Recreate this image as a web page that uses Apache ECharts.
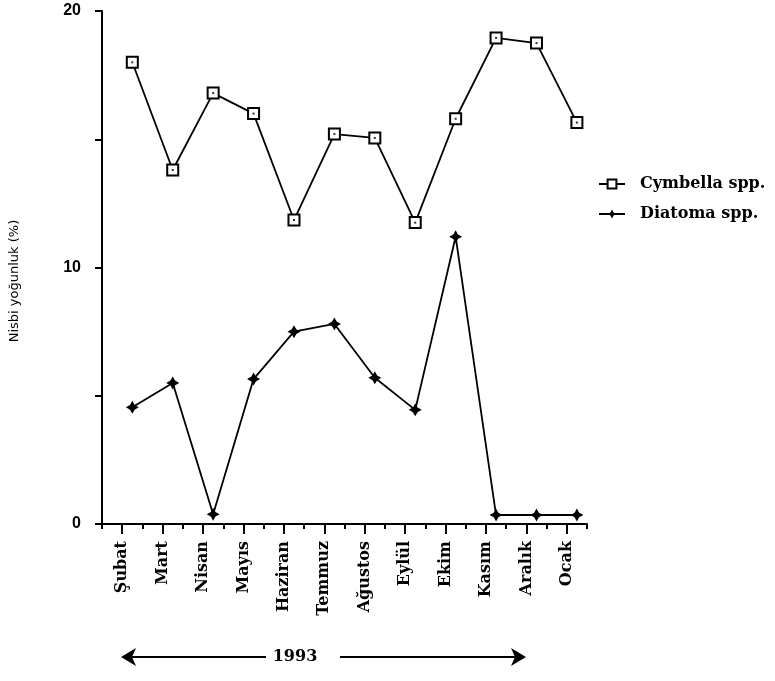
<!DOCTYPE html>
<html>
<head>
<meta charset="utf-8">
<script src="https://cdn.jsdelivr.net/npm/echarts@6/dist/echarts.min.js"></script>
<style>
  html, body { margin: 0; padding: 0; background: #fff; }
  #chart { width: 775px; height: 681px; }
</style>
</head>
<body>
<div id="chart"></div>
<script>
// Months of the sampling year (Şubat 1993 – Ocak 1994)
const months = ['Şubat', 'Mart', 'Nisan', 'Mayıs', 'Haziran', 'Temmuz',
                'Ağustos', 'Eylül', 'Ekim', 'Kasım', 'Aralık', 'Ocak'];

// Relative abundance (%) per month
const cymbella = [18.0, 13.8, 16.8, 16.0, 11.85, 15.2, 15.05, 11.75, 15.8, 18.95, 18.75, 15.65];
const diatoma  = [4.55, 5.5, 0.38, 5.65, 7.5, 7.8, 5.7, 4.45, 11.2, 0.35, 0.35, 0.35];

// Y axis ticks and which of them carry a label
const yTicks = [0, 5, 10, 15, 20];
const yLabelled = [0, 10, 20];

// Month labels sit a quarter step left of each plotted month; short ticks halfway between
const LABEL_SHIFT = 0.25;
const majorTicks = months.map((_, i) => i - LABEL_SHIFT);
const minorTicks = [-1].concat(months.map((_, i) => i)).map(i => i + 0.5 - LABEL_SHIFT);

const toPoints = arr => arr.map((v, i) => [i, v]);

const serifBold = { fontFamily: 'DejaVu Serif', fontWeight: 'bold', color: '#000' };

// Four-point star used for Diatoma
const starPath = 'path://M5,0 L6.8,3.2 L10,5 L6.8,6.8 L5,10 L3.2,6.8 L0,5 L3.2,3.2 Z';

const chart = echarts.init(document.getElementById('chart'), null, { renderer: 'canvas' });

chart.setOption({
  backgroundColor: '#fff',
  animation: false,
  grid: { left: 102, right: 188, top: 11, bottom: 157, containLabel: false },
  legend: {
    orient: 'vertical',
    left: 593,
    top: 171,
    itemWidth: 26,
    itemHeight: 11,
    itemGap: 14,
    data: ['Cymbella spp.', 'Diatoma spp.'],
    textStyle: Object.assign({ fontSize: 16, padding: [0, 0, 0, 10] }, serifBold)
  },
  xAxis: [
    {
      type: 'value',
      position: 'bottom',
      min: -0.75,
      max: 11.25,
      splitLine: { show: false },
      axisLine: { show: true, onZero: false, lineStyle: { color: '#000', width: 2 } },
      axisTick: { show: true, customValues: majorTicks, length: 10, lineStyle: { color: '#000', width: 2 } },
      axisLabel: {
        show: true,
        customValues: majorTicks,
        rotate: 90,
        margin: 17,
        fontSize: 16,
        fontFamily: 'DejaVu Serif',
        fontWeight: 'bold',
        color: '#000',
        formatter: v => months[Math.round(v + LABEL_SHIFT)] || ''
      }
    },
    {
      type: 'value',
      position: 'bottom',
      min: -0.75,
      max: 11.25,
      splitLine: { show: false },
      axisLine: { show: false, onZero: false },
      axisTick: { show: true, customValues: minorTicks, length: 5, lineStyle: { color: '#000', width: 2 } },
      axisLabel: { show: false }
    }
  ],
  yAxis: {
    type: 'value',
    min: 0,
    max: 20,
    interval: 5,
    splitLine: { show: false },
    axisLine: { show: true, onZero: false, lineStyle: { color: '#000', width: 2 } },
    axisTick: { show: true, length: 7, lineStyle: { color: '#000', width: 2 } },
    axisLabel: {
      margin: 21,
      fontSize: 16,
      fontFamily: 'Liberation Sans',
      fontWeight: 'bold',
      color: '#000',
      formatter: v => (yTicks.includes(v) && yLabelled.includes(v)) ? String(v) : ''
    }
  },
  series: [
    {
      name: 'Cymbella spp.',
      type: 'line',
      data: toPoints(cymbella),
      symbol: 'rect',
      symbolSize: 11,
      showAllSymbol: true,
      lineStyle: { color: '#000', width: 1.8 },
      itemStyle: { color: '#fff', borderColor: '#000', borderWidth: 2 },
      z: 3
    },
    {
      // centre dot inside each Cymbella square
      name: 'Cymbella dot',
      type: 'scatter',
      data: toPoints(cymbella),
      symbol: 'rect',
      symbolSize: 2,
      itemStyle: { color: '#000' },
      silent: true,
      z: 4
    },
    {
      name: 'Diatoma spp.',
      type: 'line',
      data: toPoints(diatoma),
      symbol: starPath,
      symbolSize: 13,
      showAllSymbol: true,
      lineStyle: { color: '#000', width: 1.8 },
      itemStyle: { color: '#000' },
      z: 3
    }
  ],
  graphic: [
    {
      // Y axis title
      type: 'text',
      x: 15,
      y: 281,
      rotation: Math.PI / 2,
      style: {
        text: 'Nisbi yoğunluk (%)',
        fontSize: 13,
        fontFamily: 'DejaVu Sans',
        fill: '#000',
        align: 'center',
        verticalAlign: 'middle'
      }
    },
    {
      // year span: left arrow
      type: 'line',
      shape: { x1: 128, y1: 657, x2: 266, y2: 657 },
      style: { stroke: '#000', lineWidth: 2 }
    },
    {
      type: 'polygon',
      shape: { points: [[121, 657], [136, 648], [132, 657], [136, 666]] },
      style: { fill: '#000' }
    },
    {
      type: 'text',
      x: 295,
      y: 657,
      style: {
        text: '1993',
        fontSize: 16,
        fontFamily: 'DejaVu Serif',
        fontWeight: 'bold',
        fill: '#000',
        align: 'center',
        verticalAlign: 'middle'
      }
    },
    {
      // year span: right arrow
      type: 'line',
      shape: { x1: 340, y1: 657, x2: 518, y2: 657 },
      style: { stroke: '#000', lineWidth: 2 }
    },
    {
      type: 'polygon',
      shape: { points: [[526, 657], [511, 648], [515, 657], [511, 666]] },
      style: { fill: '#000' }
    }
  ]
});
</script>
</body>
</html>
